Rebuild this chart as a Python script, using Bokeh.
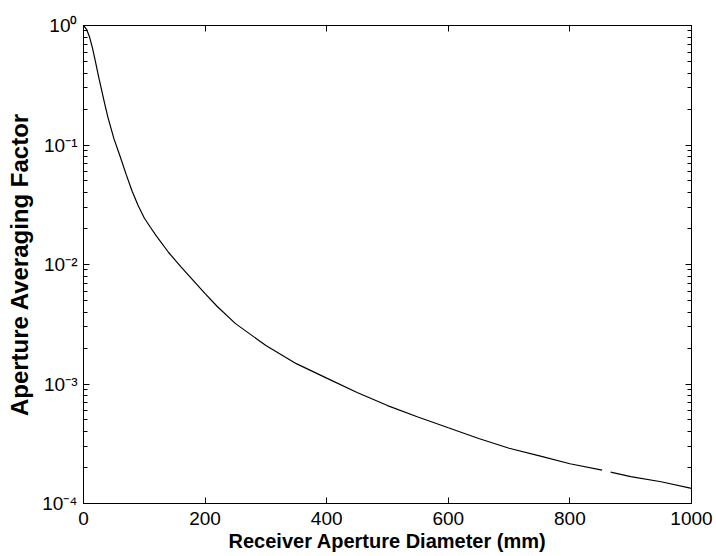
from bokeh.plotting import figure
from bokeh.models import (Range1d, LinearAxis, LogAxis, FixedTicker,
                          CustomJSTickFormatter)
from bokeh.embed import file_html
from bokeh.resources import INLINE
import numpy as np

# ---- data ----
diameter_mm = [0, 5, 10, 15, 20, 25, 30, 35, 40, 50, 60, 70, 80, 90, 100,
               110, 120, 140, 160, 180, 200, 220, 250, 300, 350, 400, 450,
               500, 550, 600, 650, 700, 750, 800, 853, 860, 867, 900, 950,
               1000]
averaging_factor = [1.0, 0.93, 0.80, 0.64, 0.49, 0.37, 0.285, 0.22, 0.172,
                    0.113, 0.081, 0.057, 0.041, 0.031, 0.0245, 0.0205,
                    0.0173, 0.0126, 0.0096, 0.0074, 0.0057, 0.00445, 0.0032,
                    0.0021, 0.00148, 0.00112, 0.00085, 0.00066, 0.00053,
                    0.00043, 0.00035, 0.00029, 0.00025, 0.000215, 0.00019,
                    np.nan, 0.000183, 0.000168, 0.000152, 0.000134]

xtick_values = [0, 200, 400, 600, 800, 1000]
ytick_values = [1e-4, 1e-3, 1e-2, 1e-1, 1e0]
ytick_labels = ["10\u207b\u2074", "10\u207b\u00b3", "10\u207b\u00b2",
                "10\u207b\u00b9", "10\u2070"]
x_label = "Receiver Aperture Diameter (mm)"
y_label = "Aperture Averaging Factor"

FONT = "Liberation Sans"

p = figure(width=716, height=556, y_axis_type="log",
           x_range=Range1d(0, 1000), y_range=Range1d(1e-4, 1),
           output_backend="svg", toolbar_location=None,
           min_border_left=83, min_border_right=25,
           min_border_top=25, min_border_bottom=53)
p.background_fill_color = "white"
p.border_fill_color = "white"
p.grid.visible = False
p.outline_line_color = "black"
p.outline_line_width = 1

p.line(diameter_mm, averaging_factor, line_color="black", line_width=1.2)

minor = [m * 10.0 ** e for e in range(-4, 0) for m in range(2, 10)]
yfmt = CustomJSTickFormatter(args=dict(vals=ytick_values, labs=ytick_labels), code="""
const i = vals.findIndex(v => Math.abs(Math.log10(v) - Math.log10(tick)) < 1e-6);
return i >= 0 ? labs[i] : "";
""")

def style(ax, labels=True):
    ax.axis_line_color = "black"
    ax.axis_line_width = 1
    ax.major_tick_line_color = "black"
    ax.minor_tick_line_color = "black"
    ax.major_tick_in = 6
    ax.major_tick_out = 0
    ax.minor_tick_in = 4
    ax.minor_tick_out = 0
    ax.major_label_text_font = FONT
    if labels:
        ax.major_label_text_color = "black"
        ax.major_label_text_font_size = "19px"
    else:
        ax.major_label_text_color = None
        ax.major_label_text_font_size = "1px"
        ax.major_label_standoff = 0
    ax.axis_label_text_font = FONT
    ax.axis_label_text_font_style = "bold"
    ax.axis_label_text_color = "black"

xa = p.xaxis[0]
xa.ticker = FixedTicker(ticks=xtick_values, minor_ticks=[])
style(xa)
xa.major_label_standoff = 8
xa.axis_label = x_label
xa.axis_label_text_font_size = "20px"
xa.axis_label_standoff = 2

ya = p.yaxis[0]
ya.ticker = FixedTicker(ticks=ytick_values, minor_ticks=minor)
ya.formatter = yfmt
style(ya)
ya.major_label_standoff = 6
ya.axis_label = y_label
ya.axis_label_text_font_size = "24px"
ya.axis_label_standoff = 6

top = LinearAxis(ticker=FixedTicker(ticks=xtick_values, minor_ticks=[]))
style(top, labels=False)
p.add_layout(top, "above")

right = LogAxis(ticker=FixedTicker(ticks=ytick_values, minor_ticks=minor))
style(right, labels=False)
p.add_layout(right, "right")

open("out.html", "w").write(file_html(p, INLINE))
